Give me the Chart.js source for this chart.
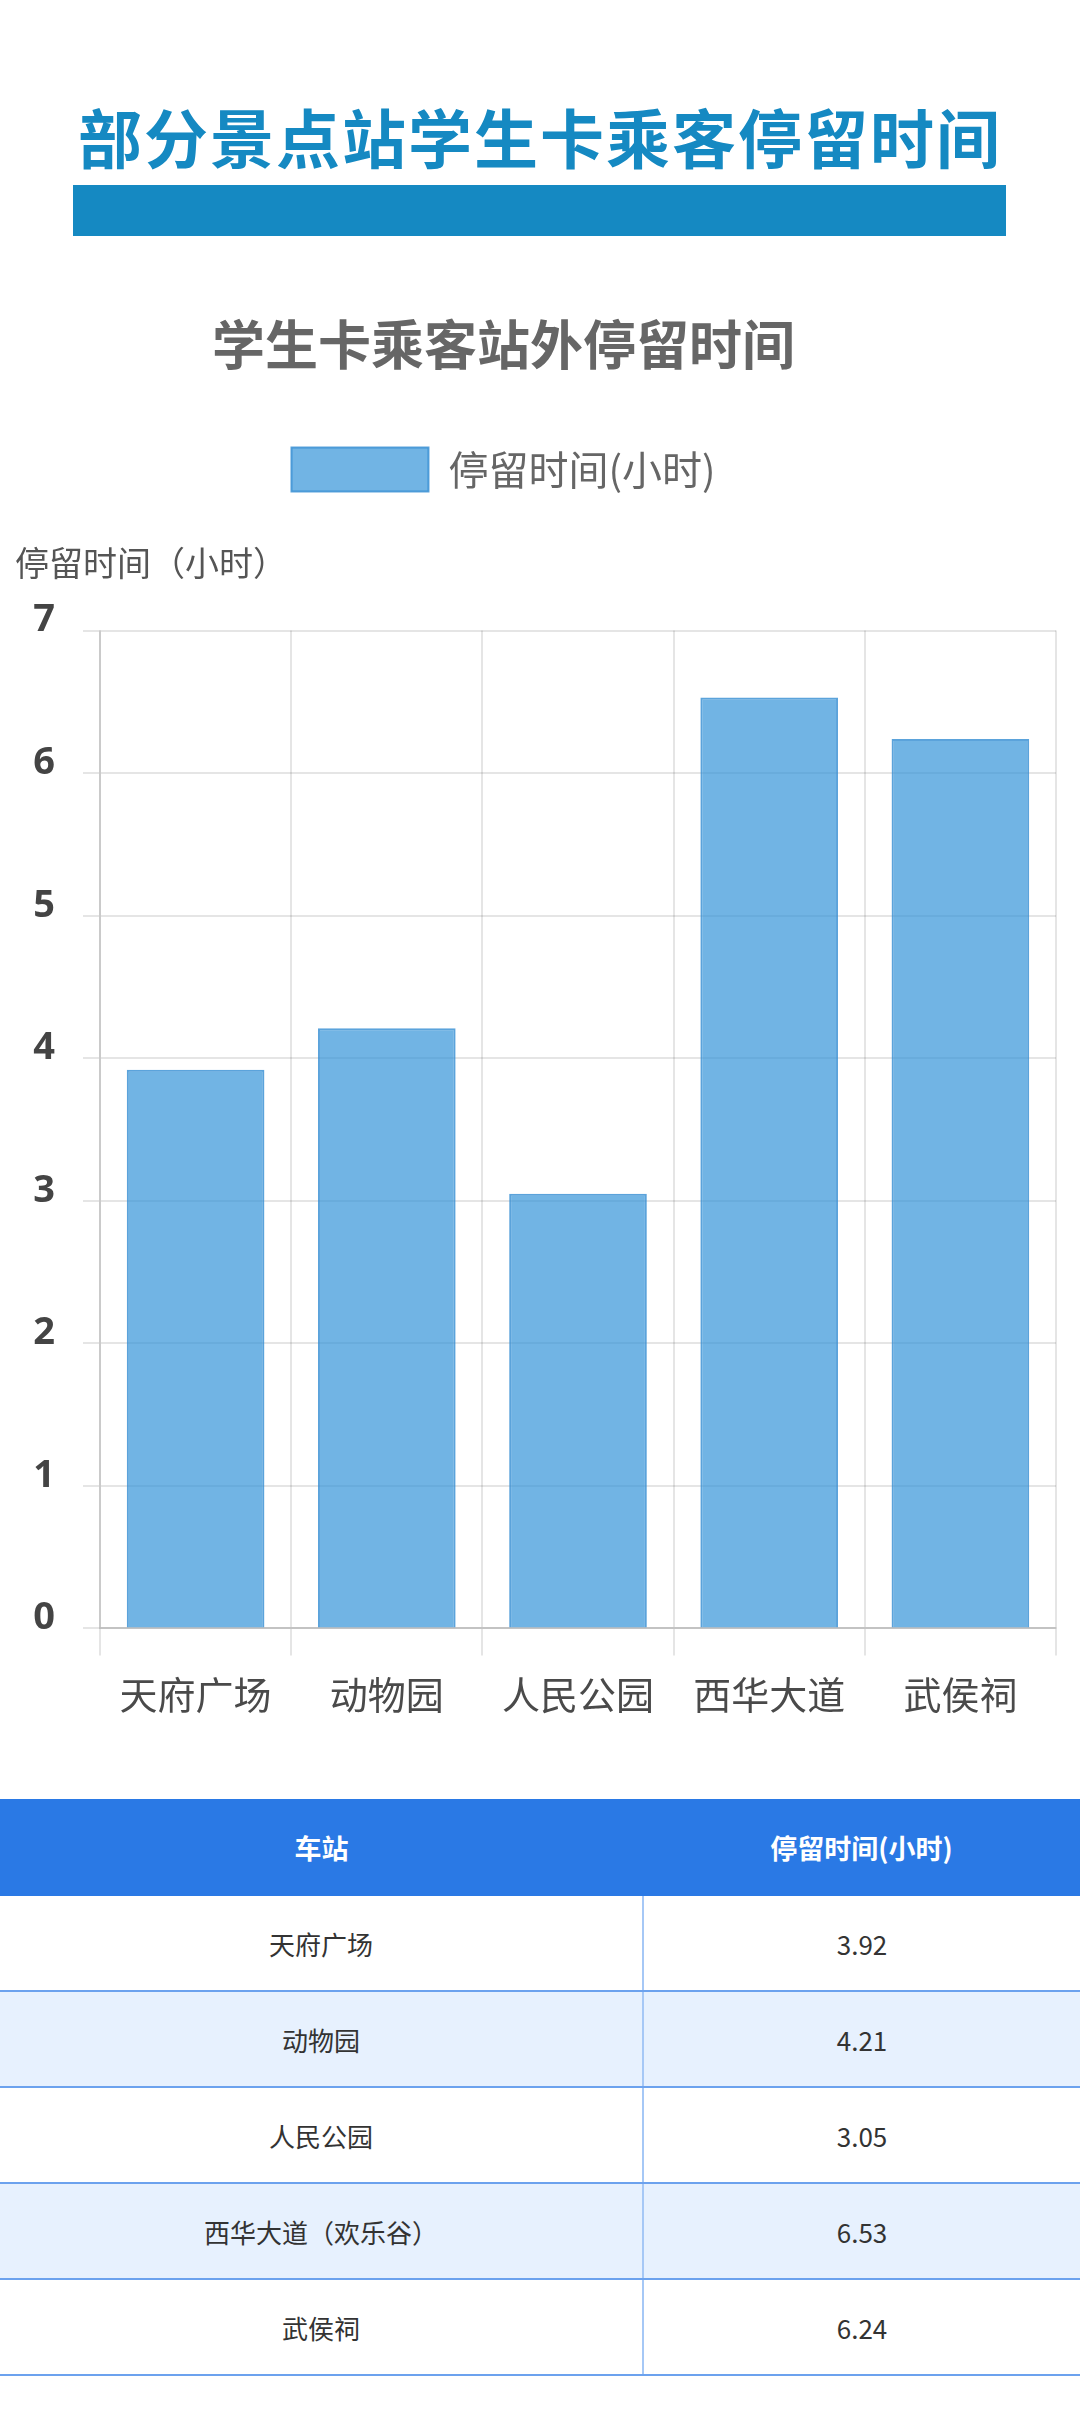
<!DOCTYPE html>
<html>
<head>
<meta charset="utf-8">
<script src="https://cdn.jsdelivr.net/npm/chart.js@4.4.1/dist/chart.umd.min.js"></script>
<style>
html, body { margin: 0; padding: 0; background: #ffffff; width: 1080px; height: 2419px; overflow: hidden; }
body { position: relative; font-family: "Noto Sans CJK SC", "Noto Sans", sans-serif; }
#pageTitle { position: absolute; left: 0; top: 97px; width: 1080px; text-align: center; font-size: 64px; font-weight: 700; letter-spacing: 2px; color: #1589c2; line-height: 76px; white-space: nowrap; }
#titleBar { position: absolute; left: 73px; top: 185px; width: 933px; height: 51px; background: #1589c2; }
#chartBox { position: absolute; left: -49px; top: 260px; width: 1129px; height: 1500px; }
#dataTable { position: absolute; left: 0; top: 1799px; width: 1080px; border-collapse: collapse; table-layout: fixed; }
#dataTable th { background: #2a79e5; color: #ffffff; font-weight: 700; font-size: 27px; height: 97px; padding: 0; text-align: center; }
#dataTable td { height: 94px; padding: 0; font-size: 26px; color: #333333; text-align: center; border-bottom: 2px solid #6ca2ee; }
#dataTable td:first-child { border-right: 2px solid #a6c8f6; }
#dataTable tr.alt td { background: #e7f1fe; }
</style>
</head>
<body>
<div id="pageTitle"></div>
<div id="titleBar"></div>
<div id="chartBox"><canvas id="chart"></canvas></div>
<table id="dataTable">
  <colgroup><col style="width:643px"><col style="width:437px"></colgroup>
  <thead><tr id="headRow"></tr></thead>
  <tbody id="tableBody"></tbody>
</table>
<script>
// ---- data ----
const pageTitle = '部分景点站学生卡乘客停留时间';
const chartTitle = '学生卡乘客站外停留时间';
const seriesName = '停留时间(小时)';
const yAxisTitle = '停留时间（小时）';
const categories = ['天府广场', '动物园', '人民公园', '西华大道', '武侯祠'];
const tableNames = ['天府广场', '动物园', '人民公园', '西华大道（欢乐谷）', '武侯祠'];
const stayHours = [3.92, 4.21, 3.05, 6.53, 6.24];
const yTicks = [0, 1, 2, 3, 4, 5, 6, 7];
const tableHeaders = ['车站', '停留时间(小时)'];

// ---- page header ----
document.getElementById('pageTitle').textContent = pageTitle;

// ---- table ----
const headRow = document.getElementById('headRow');
tableHeaders.forEach(h => { const th = document.createElement('th'); th.textContent = h; headRow.appendChild(th); });
const tbody = document.getElementById('tableBody');
tableNames.forEach((name, i) => {
  const tr = document.createElement('tr');
  if (i % 2 === 1) tr.className = 'alt';
  const td1 = document.createElement('td'); td1.textContent = name;
  const td2 = document.createElement('td'); td2.textContent = stayHours[i].toFixed(2);
  tr.appendChild(td1); tr.appendChild(td2);
  tbody.appendChild(tr);
});

// ---- chart ----
Chart.defaults.font.family = '"Noto Sans CJK SC", "Noto Sans", sans-serif';

const legendGap = {
  id: 'legendGap',
  beforeInit(chart) {
    const orig = chart.legend.fit;
    chart.legend.fit = function () { orig.call(this); this.height += 129; };
  }
};

const yTitlePlugin = {
  id: 'yTitlePlugin',
  afterDraw(chart) {
    const ctx = chart.ctx;
    ctx.save();
    ctx.font = '34px "Noto Sans CJK SC", sans-serif';
    ctx.fillStyle = '#555555';
    ctx.textAlign = 'left';
    ctx.textBaseline = 'middle';
    ctx.fillText(yAxisTitle, 64, chart.chartArea.top - 68);
    ctx.restore();
  }
};

new Chart(document.getElementById('chart'), {
  type: 'bar',
  data: {
    labels: categories,
    datasets: [{
      label: seriesName,
      data: stayHours,
      backgroundColor: 'rgba(45,145,215,0.68)',
      borderColor: 'rgba(50,140,210,0.8)',
      borderWidth: 2
    }]
  },
  options: {
    responsive: true,
    maintainAspectRatio: false,
    animation: false,
    layout: { padding: { left: 0, right: 24, top: 0, bottom: 27 } },
    plugins: {
      title: {
        display: true,
        text: chartTitle,
        color: '#666666',
        font: { size: 53, weight: 'bold' },
        padding: { top: 53, bottom: 51 }
      },
      legend: {
        display: true,
        position: 'top',
        labels: {
          boxWidth: 137,
          boxHeight: 44,
          padding: 20,
          color: '#666666',
          font: { size: 40 }
        }
      },
      tooltip: { enabled: false }
    },
    scales: {
      x: {
        grid: { color: 'rgba(0,0,0,0.1)', lineWidth: 2, tickLength: 27, offset: true },
        border: { color: 'rgba(0,0,0,0.15)', width: 2 },
        ticks: { color: '#4a4a4a', font: { size: 38 }, padding: 16, maxRotation: 0, autoSkip: false }
      },
      y: {
        min: yTicks[0],
        max: yTicks[yTicks.length - 1],
        afterFit(scale) { scale.width = 149; },
        afterBuildTicks(scale) { scale.ticks = yTicks.map(v => ({ value: v })); },
        grid: { color: 'rgba(0,0,0,0.1)', lineWidth: 2, tickLength: 17 },
        border: { color: 'rgba(0,0,0,0.12)', width: 2 },
        ticks: { color: '#444444', font: { family: '"Noto Sans", sans-serif', size: 38, weight: 'bold' }, padding: 28, labelOffset: -10 }
      }
    }
  },
  plugins: [legendGap, yTitlePlugin]
});
</script>
</body>
</html>
